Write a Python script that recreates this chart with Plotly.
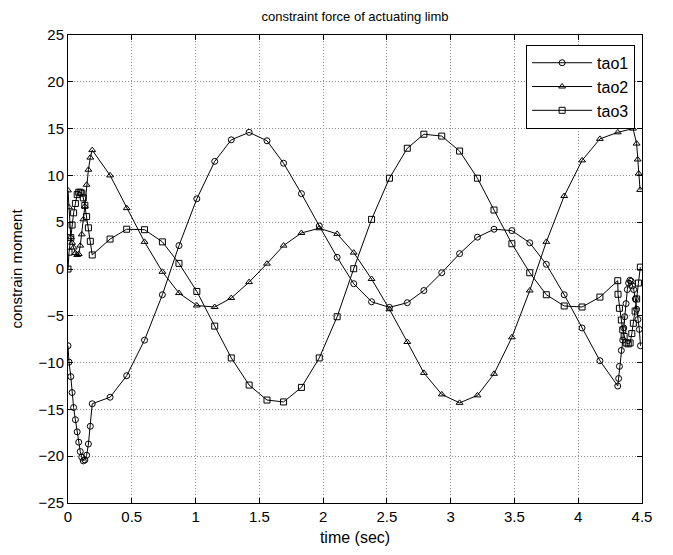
import plotly.graph_objects as go

# ---- data ----
time_start = [0, 0.008, 0.022, 0.032, 0.044, 0.058, 0.072, 0.084, 0.096, 0.108,
              0.12, 0.132, 0.146, 0.16, 0.175, 0.19]
time_mid = [0.33, 0.46, 0.60, 0.74, 0.87, 1.01, 1.15, 1.28, 1.42, 1.56,
            1.69, 1.83, 1.97, 2.11, 2.24, 2.38, 2.52, 2.66, 2.79, 2.93,
            3.07, 3.21, 3.34, 3.48, 3.62, 3.75, 3.89, 4.03, 4.17, 4.31]

tao1_start = [-8.2, -9.95, -11.5, -13.2, -14.8, -16.1, -17.4, -18.5, -19.5, -20.1,
              -20.5, -20.4, -19.9, -18.7, -16.8, -14.4]
tao1_mid = [-13.7, -11.4, -7.6, -2.75, 2.5, 7.5, 11.5, 13.8, 14.6, 13.7,
            11.3, 8.05, 4.6, 1.25, -1.57, -3.5, -4.1, -3.6, -2.3, -0.4,
            1.64, 3.4, 4.25, 4.1, 2.8, 0.5, -2.75, -6.3, -9.8, -12.5]
time_end_1 = [4.317, 4.323, 4.338, 4.349, 4.357, 4.364, 4.375, 4.385, 4.395, 4.405,
              4.415, 4.425, 4.435, 4.448, 4.458, 4.468, 4.479, 4.488]
tao1_end = [-11.7, -10.4, -8.7, -7.6, -6.3, -5.1, -3.7, -2.2, -1.5, -1.2,
            -1.3, -1.8, -2.2, -3.2, -4.3, -5.4, -6.45, -8.2]

tao2_start = [8.4, 6.6, 3.4, 2.8, 2.3, 1.7, 1.5, 1.6, 2.5, 3.7,
              5.3, 6.7, 9.0, 10.6, 11.9, 12.7]
tao2_mid = [10.0, 6.5, 2.9, -0.3, -2.57, -3.9, -4.06, -3.1, -1.4, 0.57,
            2.5, 3.85, 4.35, 3.75, 1.75, -1.07, -4.3, -7.8, -11.1, -13.4,
            -14.3, -13.5, -11.2, -7.3, -2.3, 2.9, 7.8, 11.6, 13.9, 14.6]
time_end_2 = [4.43, 4.458, 4.466, 4.474, 4.485]
tao2_end = [15.0, 13.4, 11.7, 10.2, 8.45]

tao3_start = [0.0, 1.8, 3.35, 4.7, 6.0, 7.0, 7.95, 8.2, 8.2, 8.1,
              7.6, 6.8, 5.6, 4.4, 2.96, 1.5]
tao3_mid = [3.2, 4.25, 4.2, 2.9, 0.6, -2.4, -6.1, -9.5, -12.4, -14.0,
            -14.2, -12.65, -9.5, -5.1, 0.03, 5.3, 9.7, 12.9, 14.4, 14.2,
            12.6, 9.7, 6.3, 2.7, -0.4, -2.75, -3.95, -4.06, -3.0, -1.25]
time_end_3 = [4.312, 4.323, 4.338, 4.349, 4.36, 4.376, 4.392, 4.407, 4.42, 4.432,
              4.446, 4.458, 4.472, 4.487]
tao3_end = [-2.7, -4.2, -5.45, -6.5, -7.2, -7.9, -8.0, -7.9, -6.9, -5.8,
            -4.5, -3.2, -1.5, 0.2]

x_ticks = [0, 0.5, 1, 1.5, 2, 2.5, 3, 3.5, 4, 4.5]
x_tick_labels = ["0", "0.5", "1", "1.5", "2", "2.5", "3", "3.5", "4", "4.5"]
y_ticks = [-25, -20, -15, -10, -5, 0, 5, 10, 15, 20, 25]

series = [
    ("tao1", time_start + time_mid + time_end_1, tao1_start + tao1_mid + tao1_end, "circle-open"),
    ("tao2", time_start + time_mid + time_end_2, tao2_start + tao2_mid + tao2_end, "triangle-up-open"),
    ("tao3", time_start + time_mid + time_end_3, tao3_start + tao3_mid + tao3_end, "square-open"),
]

FONT = "Liberation Sans, Arial, sans-serif"

fig = go.Figure()
for name, xs, ys, sym in series:
    fig.add_trace(go.Scatter(
        x=xs, y=ys, name=name, mode="lines+markers", legendgroup=name,
        line=dict(color="black", width=1),
        marker=dict(symbol=sym, size=6, color="black", line=dict(color="black", width=1)),
    ))

axis_common = dict(
    showline=True, linecolor="black", linewidth=1, mirror="ticks",
    ticks="inside", ticklen=5, tickcolor="black", automargin=False,
    showgrid=True, gridcolor="#8c8c8c", griddash="1px,2px", gridwidth=1,
    zeroline=False, tickfont=dict(family=FONT, size=15, color="black"),
)

W, H = 665, 547  # page body has an 8px margin
fig.update_layout(
    width=W, height=H,
    margin=dict(l=60, r=31, t=27, b=52),
    paper_bgcolor="white", plot_bgcolor="white",
    title=dict(text="constraint force of actuating limb", x=(60 + 634) / 2 / W, xanchor="center",
               y=1 - 8 / H, yanchor="middle",
               font=dict(family=FONT, size=13, color="black")),
    xaxis=dict(range=[0, 4.5], tickvals=x_ticks, ticktext=x_tick_labels,
               title=dict(text="time (sec)", standoff=7, font=dict(family=FONT, size=16, color="black")),
               **axis_common),
    yaxis=dict(range=[-25, 25], tickvals=y_ticks,
               title=dict(text="constrain moment", standoff=18, font=dict(family=FONT, size=15, color="black")),
               **axis_common),
    legend=dict(x=0.988, y=0.979, xanchor="right", yanchor="top",
                bgcolor="white", bordercolor="black", borderwidth=1,
                font=dict(family=FONT, size=16, color="black"),
                tracegroupgap=0, itemwidth=60),
    showlegend=True,
)

fig.write_html("out.html")
